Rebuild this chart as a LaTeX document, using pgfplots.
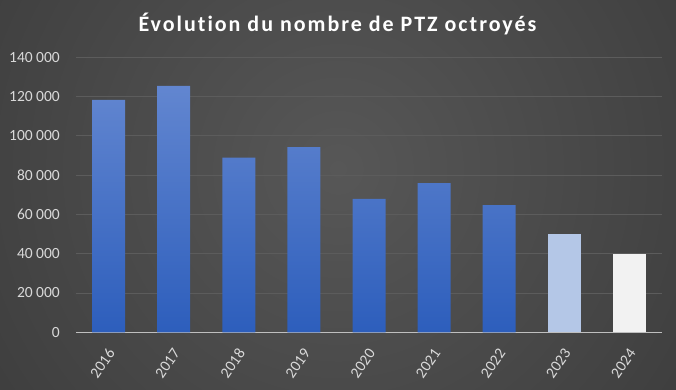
\documentclass[border=0pt]{standalone}
\usepackage{fontspec}
\setmainfont{Carlito}
\newfontfamily\titlefont[LetterSpace=9, Ligatures={NoCommon}]{Carlito}
\usepackage{pgfplots}
\pgfplotsset{compat=1.18}
\definecolor{bgA}{HTML}{575757}
\definecolor{bgB}{HTML}{404040}
\definecolor{bgC}{HTML}{2B2B2B}
\definecolor{bgD}{HTML}{212121}
\definecolor{barTop}{HTML}{6286D0}
\definecolor{barBot}{HTML}{2D5EBC}
\definecolor{barA}{HTML}{B4C7E7}
\definecolor{barB}{HTML}{F2F2F2}
\definecolor{gridc}{HTML}{5C5C5C}
\definecolor{axisc}{HTML}{BFBFBF}
\definecolor{tickc}{HTML}{D9D9D9}
\pgfdeclareradialshading{bgshade}{\pgfpoint{0bp}{0bp}}{color(0bp)=(bgA); color(24bp)=(bgB); color(42bp)=(bgC); color(50bp)=(bgD)}
\begin{document}
\begin{tikzpicture}
\path[use as bounding box] (0,0) rectangle (676pt,389pt);
\begin{scope}
\clip (0,0) rectangle (676pt,389pt);
\shade[shading=bgshade] (-62pt,-180pt) rectangle (738pt,620pt);
\end{scope}
\node[font=\titlefont\bfseries\fontsize{22}{26}\selectfont, text=white, anchor=base, inner sep=0pt] at (337.5pt,357.3pt) {Évolution du nombre de PTZ octroyés};
\begin{axis}[
  at={(76pt,56.7pt)}, anchor=south west,
  width=586pt, height=275pt, scale only axis,
  xmin=-0.5, xmax=8.5, ymin=0, ymax=140000,
  xtick={0,...,8},
  xticklabels={2016,2017,2018,2019,2020,2021,2022,2023,2024},
  ytick={0,20000,...,140000},
  yticklabels={0,20 000,40 000,60 000,80 000,100 000,120 000,140 000},
  scaled y ticks=false,
  /pgf/number format/assume math mode=true,
  major tick length=0pt,
  ymajorgrids, grid style={draw=gridc, line width=0.8pt},
  separate axis lines,
  axis x line*=bottom, axis y line*=left,
  x axis line style={draw=axisc, line width=1pt},
  y axis line style={draw=none},
  ticklabel style={font=\fontsize{15.5}{17}\selectfont, text=tickc},
  yticklabel style={anchor=east, inner sep=0pt, xshift=-16pt},
  xticklabel style={inner sep=0pt, xshift=3pt, yshift=-18pt, rotate=55, anchor=east},
  clip=false,
]
\addplot[ybar, bar width=33pt, bar shift=0pt, draw=none, top color=barTop, bottom color=barBot]
  coordinates {(0,118300) (1,125400) (2,88900) (3,94300) (4,67900) (5,76000) (6,64800)};
\addplot[ybar, bar width=33pt, bar shift=0pt, draw=none, fill=barA]
  coordinates {(7,50000)};
\addplot[ybar, bar width=33pt, bar shift=0pt, draw=none, fill=barB]
  coordinates {(8,39900)};
\end{axis}
\end{tikzpicture}
\end{document}
